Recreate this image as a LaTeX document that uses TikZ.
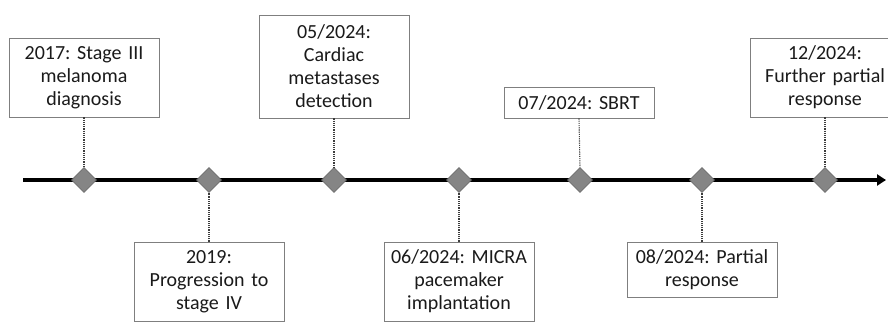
\documentclass[tikz,border=0pt]{standalone}
\usepackage{fontspec}
\setmainfont{Carlito}
\usetikzlibrary{shapes.geometric,arrows.meta}
\definecolor{boxline}{HTML}{7F7F7F}
\definecolor{txt}{HTML}{1A1A1A}
\definecolor{dia}{HTML}{858585}
\definecolor{diab}{HTML}{6E6E6E}
\begin{document}
\begin{tikzpicture}[x=1pt,y=-1pt,
  evbox/.style={draw=boxline,line width=0.9pt,fill=white,text=txt,align=center,
    font=\frenchspacing\fontsize{20}{23}\selectfont,minimum width=150pt,text width=146pt,inner sep=0pt,anchor=center},
  evdia/.style={diamond,fill=dia,draw=diab,line width=0.6pt,minimum width=25pt,minimum height=25pt,inner sep=0pt},
  link/.style={draw=txt!85,line width=1.1pt,dash pattern=on 1.1pt off 1.1pt}]
\useasboundingbox (0,0) rectangle (888,321);
\clip (0,0) rectangle (888,321);
% timeline
\coordinate (tl0) at (23,180);
\coordinate (tl1) at (886,180);
\draw[line width=3.2pt,-{Triangle[length=9pt,width=11pt]}] (tl0) -- (tl1);
% diamonds
\node[evdia] (d1) at (84,180) {};
\node[evdia] (d2) at (209,180) {};
\node[evdia] (d3) at (334,180) {};
\node[evdia] (d4) at (459,180) {};
\node[evdia] (d5) at (580,180) {};
\node[evdia] (d6) at (702,180) {};
\node[evdia] (d7) at (825,180) {};
% boxes
\node[evbox,minimum height=79pt] (b1) at (84,77.5) {2017: Stage III\\melanoma\\diagnosis};
\node[evbox,minimum height=79pt] (b2) at (209,281.5) {2019:\\Progression to\\stage IV};
\node[evbox,minimum height=103pt] (b3) at (334,66.5) {05/2024:\\Cardiac\\metastases\\detection};
\node[evbox,minimum height=79pt] (b4) at (459,281.5) {06/2024: MICRA\\pacemaker\\implantation};
\node[evbox,minimum height=31pt] (b5) at (579,102.5) {07/2024: SBRT};
\node[evbox,minimum height=55pt] (b6) at (702,269.5) {08/2024: Partial\\response};
\node[evbox,minimum height=79pt] (b7) at (825,77.5) {12/2024:\\Further partial\\response};
% links
\draw[link] (b1.south) -- (d1.north);
\draw[link] (b2.north) -- (d2.south);
\draw[link] (b3.south) -- (d3.north);
\draw[link] (b4.north) -- (d4.south);
\draw[link] (b5.south) -- (d5.north);
\draw[link] (b6.north) -- (d6.south);
\draw[link] (b7.south) -- (d7.north);
\end{tikzpicture}
\end{document}
